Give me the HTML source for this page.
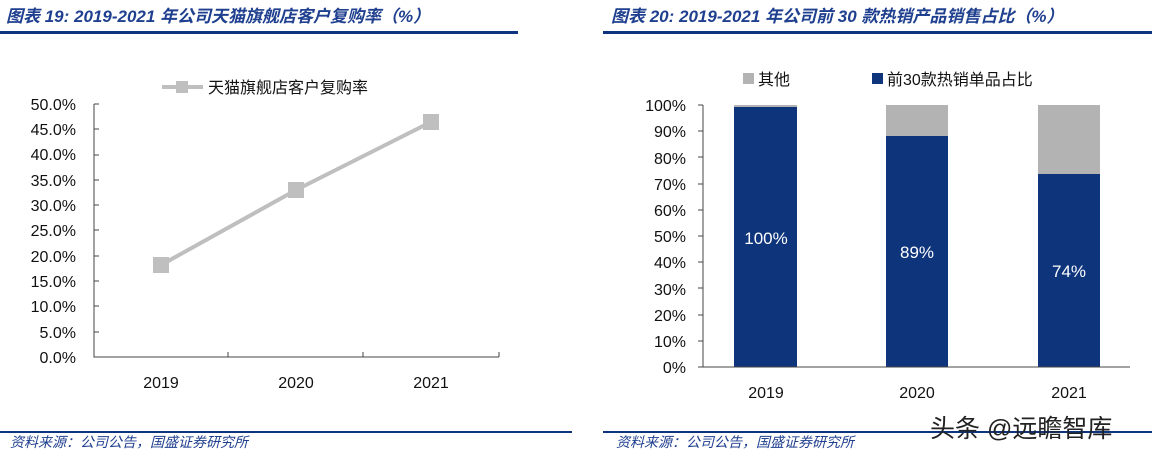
<!DOCTYPE html>
<html><head><meta charset="utf-8"><style>
body{margin:0;background:#fff;width:1152px;height:456px;overflow:hidden}
svg{display:block}
.t{font-family:"Liberation Sans","Noto Sans CJK SC",sans-serif}
</style></head><body>
<svg width="1152" height="456" viewBox="0 0 1152 456" class="t">
<text x="6" y="22" font-size="17" font-style="italic" font-weight="bold" fill="#1f3f8f">图表 19:  2019-2021 年公司天猫旗舰店客户复购率（%）</text>
<text x="611" y="22" font-size="17" font-style="italic" font-weight="bold" fill="#1f3f8f">图表 20:  2019-2021 年公司前 30 款热销产品销售占比（%）</text>
<rect x="0" y="31" width="518" height="3" fill="#0e3480"/>
<rect x="603" y="31" width="549" height="3" fill="#0e3480"/>
<rect x="0" y="431" width="572" height="2" fill="#0e3480"/>
<rect x="603" y="431" width="549" height="2" fill="#0e3480"/>
<text x="10" y="447" font-size="14" font-style="italic" fill="#1f3f8f">资料来源：公司公告，国盛证券研究所</text>
<text x="616" y="447" font-size="14" font-style="italic" fill="#1f3f8f">资料来源：公司公告，国盛证券研究所</text>
<text x="930" y="437" font-size="25" fill="#222">头条 @远瞻智库</text>

<line x1="162" y1="87" x2="203" y2="87" stroke="#bfbfbf" stroke-width="4"/>
<rect x="176" y="81" width="12" height="12" fill="#bfbfbf"/>
<text x="208" y="93" font-size="16" fill="#111">天猫旗舰店客户复购率</text>
<g font-size="16" fill="#111" text-anchor="end">
<text x="76" y="110">50.0%</text><text x="76" y="135">45.0%</text><text x="76" y="160">40.0%</text><text x="76" y="186">35.0%</text><text x="76" y="211">30.0%</text><text x="76" y="236">25.0%</text><text x="76" y="262">20.0%</text><text x="76" y="287">15.0%</text><text x="76" y="312">10.0%</text><text x="76" y="338">5.0%</text><text x="76" y="363">0.0%</text>
</g>
<path d="M94 104V357H499M94 104H99M94 129H99M94 155H99M94 180H99M94 205H99M94 230H99M94 256H99M94 281H99M94 306H99M94 332H99M228 357V352M363 357V352M499 357V352" stroke="#444" fill="none"/>
<polyline points="161,265 296,190 431,122" stroke="#bfbfbf" stroke-width="4" fill="none"/>
<rect x="153" y="257" width="16" height="16" fill="#bfbfbf"/>
<rect x="288" y="182" width="16" height="16" fill="#bfbfbf"/>
<rect x="423" y="114" width="16" height="16" fill="#bfbfbf"/>
<g font-size="16" fill="#111" text-anchor="middle">
<text x="161" y="388">2019</text><text x="296" y="388">2020</text><text x="431" y="388">2021</text>
</g>

<rect x="743" y="73" width="11" height="11" fill="#b3b3b3"/>
<text x="758" y="85" font-size="16" fill="#111">其他</text>
<rect x="872" y="73" width="11" height="11" fill="#0e347c"/>
<text x="887" y="85" font-size="16" fill="#111">前30款热销单品占比</text>
<g font-size="16" fill="#111" text-anchor="end">
<text x="686" y="111">100%</text><text x="686" y="137">90%</text><text x="686" y="164">80%</text><text x="686" y="190">70%</text><text x="686" y="216">60%</text><text x="686" y="242">50%</text><text x="686" y="268">40%</text><text x="686" y="295">30%</text><text x="686" y="321">20%</text><text x="686" y="347">10%</text><text x="686" y="373">0%</text>
</g>
<rect x="734" y="105" width="63" height="262" fill="#b3b3b3"/>
<rect x="734" y="107" width="63" height="260" fill="#0e347c"/>
<rect x="886" y="105" width="62" height="262" fill="#b3b3b3"/>
<rect x="886" y="136" width="62" height="231" fill="#0e347c"/>
<rect x="1038" y="105" width="62" height="262" fill="#b3b3b3"/>
<rect x="1038" y="174" width="62" height="193" fill="#0e347c"/>
<path d="M703 105V367H1130M698 105H703M698 131H703M698 157H703M698 184H703M698 210H703M698 236H703M698 262H703M698 288H703M698 315H703M698 341H703M698 367H703" stroke="#444" fill="none"/>
<g font-size="17" fill="#fff" text-anchor="middle">
<text x="766" y="244">100%</text><text x="917" y="258">89%</text><text x="1069" y="277">74%</text>
</g>
<g font-size="16" fill="#111" text-anchor="middle">
<text x="766" y="398">2019</text><text x="917" y="398">2020</text><text x="1069" y="398">2021</text>
</g>
</svg>
</body></html>
